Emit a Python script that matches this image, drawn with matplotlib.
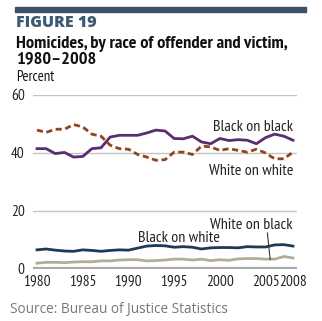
import matplotlib
matplotlib.use("Agg")
import matplotlib.pyplot as plt

years = list(range(1980, 2009))

black_on_black = [41.5, 41.5, 39.8, 40.2, 38.6, 38.8, 41.5, 41.8, 45.5, 46.1,
                  46.1, 46.1, 46.9, 47.9, 47.6, 45.0, 44.9, 45.8, 43.8, 43.2,
                  45.0, 44.3, 44.6, 44.4, 43.2, 45.3, 46.5, 45.8, 44.4]
white_on_white = [47.9, 47.1, 48.2, 48.2, 49.8, 49.0, 46.5, 45.8, 42.7, 41.5,
                  41.3, 39.5, 38.6, 37.5, 37.7, 40.3, 40.3, 39.5, 42.4, 42.1,
                  40.9, 41.5, 40.9, 40.3, 41.3, 40.0, 38.0, 38.0, 40.3]
black_on_white = [6.6, 6.9, 6.5, 6.2, 6.1, 6.6, 6.4, 6.1, 6.4, 6.6,
                  6.5, 7.2, 7.9, 8.1, 8.0, 7.5, 7.7, 7.5, 6.9, 7.3,
                  7.4, 7.4, 7.3, 7.7, 7.6, 7.6, 8.3, 8.4, 7.9]
white_on_black = [2.0, 2.3, 2.3, 2.2, 2.4, 2.5, 2.5, 2.8, 2.8, 3.1,
                  3.2, 3.2, 2.8, 2.9, 3.1, 3.4, 3.4, 3.1, 3.4, 2.9,
                  3.2, 3.0, 3.5, 3.6, 3.6, 3.4, 3.4, 4.3, 3.8]

xticks = [1980, 1985, 1990, 1995, 2000, 2005, 2008]
yticks = [0, 20, 40, 60]

cond = ["PT Sans Narrow", "Roboto Condensed", "DejaVu Sans"]
wide = ["Open Sans", "DejaVu Sans"]

def py(p):
    # pixel row (from top) -> data value on the 0..60 scale
    return (269 - p) / 2.9

fig = plt.figure(figsize=(3.22, 3.21), dpi=100, facecolor="white")
ax = fig.add_axes([33 / 322, 52 / 321, 264 / 322, 174 / 321])

for y in yticks[1:]:
    ax.axhline(y, color="#c4c4c4", lw=1.0, zorder=1)
ax.axhline(0, color="#a9a9a9", lw=3.0, zorder=1)

ax.plot(years, black_on_black, color="#5a2d72", lw=2.0, zorder=3)
ax.plot(years, white_on_white, color="#93441a", lw=2.0, ls=(0, (2.2, 1.3)), zorder=3)
ax.plot(years, black_on_white, color="#1e3a56", lw=2.0, zorder=3)
ax.plot(years, white_on_black, color="#b4ac96", lw=2.0, zorder=3)

ax.set_xlim(1979.56, 2008.44)
ax.set_ylim(0, 60)
for s in ax.spines.values():
    s.set_visible(False)
ax.set_yticks(yticks)
ax.set_xticks(xticks)
ax.set_xticklabels([str(t) for t in xticks], family=cond, fontsize=11)
ax.set_yticklabels([str(t) for t in yticks], family=cond, fontsize=11)
ax.tick_params(length=0, colors="#222222")
ax.tick_params(axis="x", pad=4)
ax.tick_params(axis="y", pad=6)

# series labels
lab = dict(fontsize=11.5, family=cond, color="#222222", ha="right", va="center")
ax.text(2008.0, py(127), "Black on black", **lab)
ax.text(2008.0, py(171), "White on white", **lab)
ax.text(2000.0, py(238), "Black on white", **lab)
ax.text(2007.9, py(225), "White on black", **lab)
ax.plot([2005.2, 2005.5], [py(233), 3.3], color="#333333", lw=0.8, zorder=4)

fig.add_artist(plt.Rectangle((15 / 322, 1 - 12 / 321), 291 / 322, 5 / 321,
                             transform=fig.transFigure, color="#3b5167"))
fig.text(16 / 322, 1 - 23 / 321, "FIGURE 19", fontsize=11.5, fontweight="heavy",
         family=wide, color="#3d5a75", va="center")
fig.text(16 / 322, 1 - 44 / 321, "Homicides, by race of offender and victim,",
         fontsize=13.2, fontweight="bold", family=cond, color="#111111", va="center")
fig.text(16 / 322, 1 - 59 / 321, "1980\u20132008",
         fontsize=13.2, fontweight="bold", family=cond, color="#111111", va="center")
fig.text(16 / 322, 1 - 77 / 321, "Percent", fontsize=10.5, family=cond,
         color="#111111", va="center")
fig.text(10 / 322, 1 - 309 / 321, "Source: Bureau of Justice Statistics", fontsize=9.8,
         family=wide, color="#777777", va="center")

fig.savefig("out.png", dpi=100)
